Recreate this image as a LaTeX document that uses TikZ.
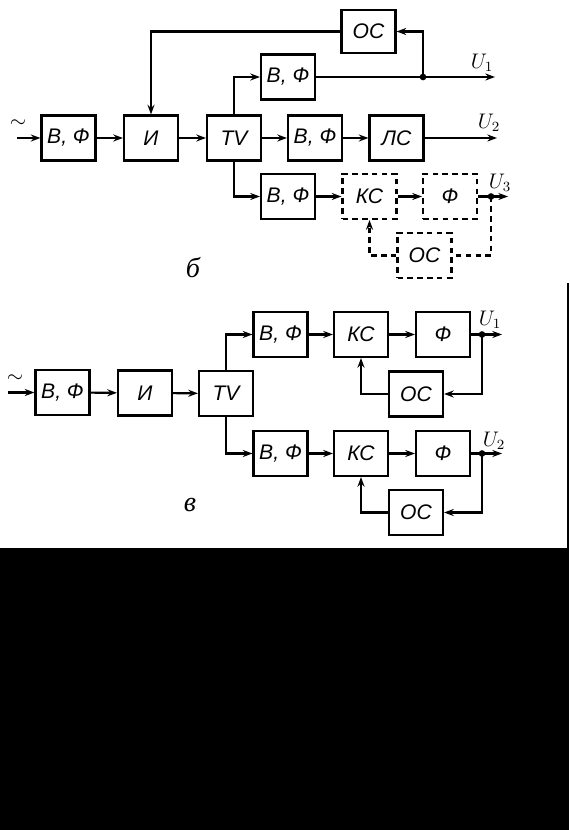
\documentclass[tikz,border=0pt]{standalone}
\usepackage{fontspec}
\usetikzlibrary{arrows.meta}
\setmainfont{Liberation Sans}
\newfontfamily\capfont{Liberation Serif}
\tikzset{
  blk/.style={draw, line width=1.2pt, minimum width=1.08cm, minimum height=0.9cm, inner sep=0pt},
  dblk/.style={blk, dash pattern=on 3.2pt off 2.4pt},
  wire/.style={line width=1.2pt},
  dwire/.style={wire, dash pattern=on 3.2pt off 2.4pt},
  jdot/.style={fill, circle, inner sep=0pt, minimum size=3.8pt},
  caplbl/.style={font=\capfont\itshape\fontsize{16}{18}\selectfont}
}
\begin{document}
\begin{tikzpicture}[x=0.02cm, y=-0.02cm, >={Stealth[length=5.5pt, width=4pt]}, font=\itshape\fontsize{12}{14}\selectfont]
			\useasboundingbox (0,0) rectangle (569,830);
			% Black margin
			\fill[black] (0,548) rectangle (569,830);
			\fill[black] (567,283) rectangle (569,548);
			
			% Blocks (b)
			\node[blk] (bfa) at (68.5,138) {В, Ф};
			\node[blk] (ia) at (151,138) {И};
			\node[blk] (tva) at (234,138) {TV};
			\node[blk] (bfm) at (315,138) {В, Ф};
			\node[blk] (ls) at (396.5,138) {ЛС};
			\node[blk] (bft) at (288,77) {В, Ф};
			\node[blk, minimum height=0.86cm] (osa) at (368.5,31.5) {ОС};
			\node[blk] (bfb) at (288,196.5) {В, Ф};
			\node[dblk] (ksa) at (369.5,196.5) {КС};
			\node[dblk] (fa) at (450,196.5) {Ф};
			\node[dblk] (osb) at (424.5,255.5) {ОС};
			
			% Points (b)
			\coordinate (ina) at (17,138);
			\node[jdot] (ja) at (423,77) {};
			\node[jdot] (jc) at (491,196.5) {};
			\coordinate (ua) at (495,77);
			\coordinate (ub) at (497,138);
			\coordinate (uc) at (508,196.5);
			
			% Connections (b)
			\draw[wire, ->] (ina) -- (bfa);
			\draw[wire, ->] (bfa) -- (ia);
			\draw[wire, ->] (ia) -- (tva);
			\draw[wire, ->] (tva) -- (bfm);
			\draw[wire, ->] (bfm) -- (ls);
			\draw[wire, ->] (ls) -- (ub);
			\draw[wire, ->] (tva.north) |- (bft.west);
			\draw[wire, ->] (bft.east) -- (ua);
			\draw[wire, ->] (ja.center) |- (osa.east);
			\draw[wire, ->] (osa.west) -| (ia.north);
			\draw[wire, ->] (tva.south) |- (bfb.west);
			\draw[wire, ->] (bfb) -- (ksa);
			\draw[wire, ->] (ksa) -- (fa);
			\draw[wire, ->] (fa.east) -- (uc);
			\draw[dwire] (jc.center) |- (osb.east);
			\draw[dwire, ->] (osb.west) -| (ksa.south);
			
			% Labels (b)
			\node at (18,124) {$\sim$};
			\node at (482,63) {$U_1$};
			\node at (489,123) {$U_2$};
			\node at (500,183) {$U_3$};
			\node[caplbl] at (193,268) {б};
			
			% Blocks (v)
			\node[blk] (bfc) at (62.5,392.5) {В, Ф};
			\node[blk] (ib) at (145,393) {И};
			\node[blk] (tvb) at (226,393.5) {TV};
			\node[blk] (bfu) at (280.5,334.5) {В, Ф};
			\node[blk] (ksu) at (361,334.5) {КС};
			\node[blk] (fu) at (443,334.5) {Ф};
			\node[blk] (osu) at (416,394) {ОС};
			\node[blk] (bfl) at (280.5,453.5) {В, Ф};
			\node[blk] (ksl) at (361,453.5) {КС};
			\node[blk] (fl) at (443,453.5) {Ф};
			\node[blk] (osl) at (416,512.5) {ОС};
			
			% Points (v)
			\coordinate (inb) at (8,392.5);
			\node[jdot] (ju) at (482,334.5) {};
			\node[jdot] (jl) at (482,453.5) {};
			\coordinate (uu) at (502,334.5);
			\coordinate (ul) at (502,453.5);
			
			% Connections (v)
			\draw[wire, ->] (inb) -- (bfc);
			\draw[wire, ->] (bfc) -- (ib);
			\draw[wire, ->] (ib) -- (tvb);
			\draw[wire, ->] (tvb.north) |- (bfu.west);
			\draw[wire, ->] (tvb.south) |- (bfl.west);
			\draw[wire, ->] (bfu) -- (ksu);
			\draw[wire, ->] (ksu) -- (fu);
			\draw[wire, ->] (fu.east) -- (uu);
			\draw[wire, ->] (ju.center) |- (osu.east);
			\draw[wire, ->] (osu.west) -| (ksu.south);
			\draw[wire, ->] (bfl) -- (ksl);
			\draw[wire, ->] (ksl) -- (fl);
			\draw[wire, ->] (fl.east) -- (ul);
			\draw[wire, ->] (jl.center) |- (osl.east);
			\draw[wire, ->] (osl.west) -| (ksl.south);
			
			% Labels (v)
			\node at (15,379) {$\sim$};
			\node at (490,320) {$U_1$};
			\node at (494,441) {$U_2$};
			\node[caplbl] at (190,505) {в};
\end{tikzpicture}
\end{document}
